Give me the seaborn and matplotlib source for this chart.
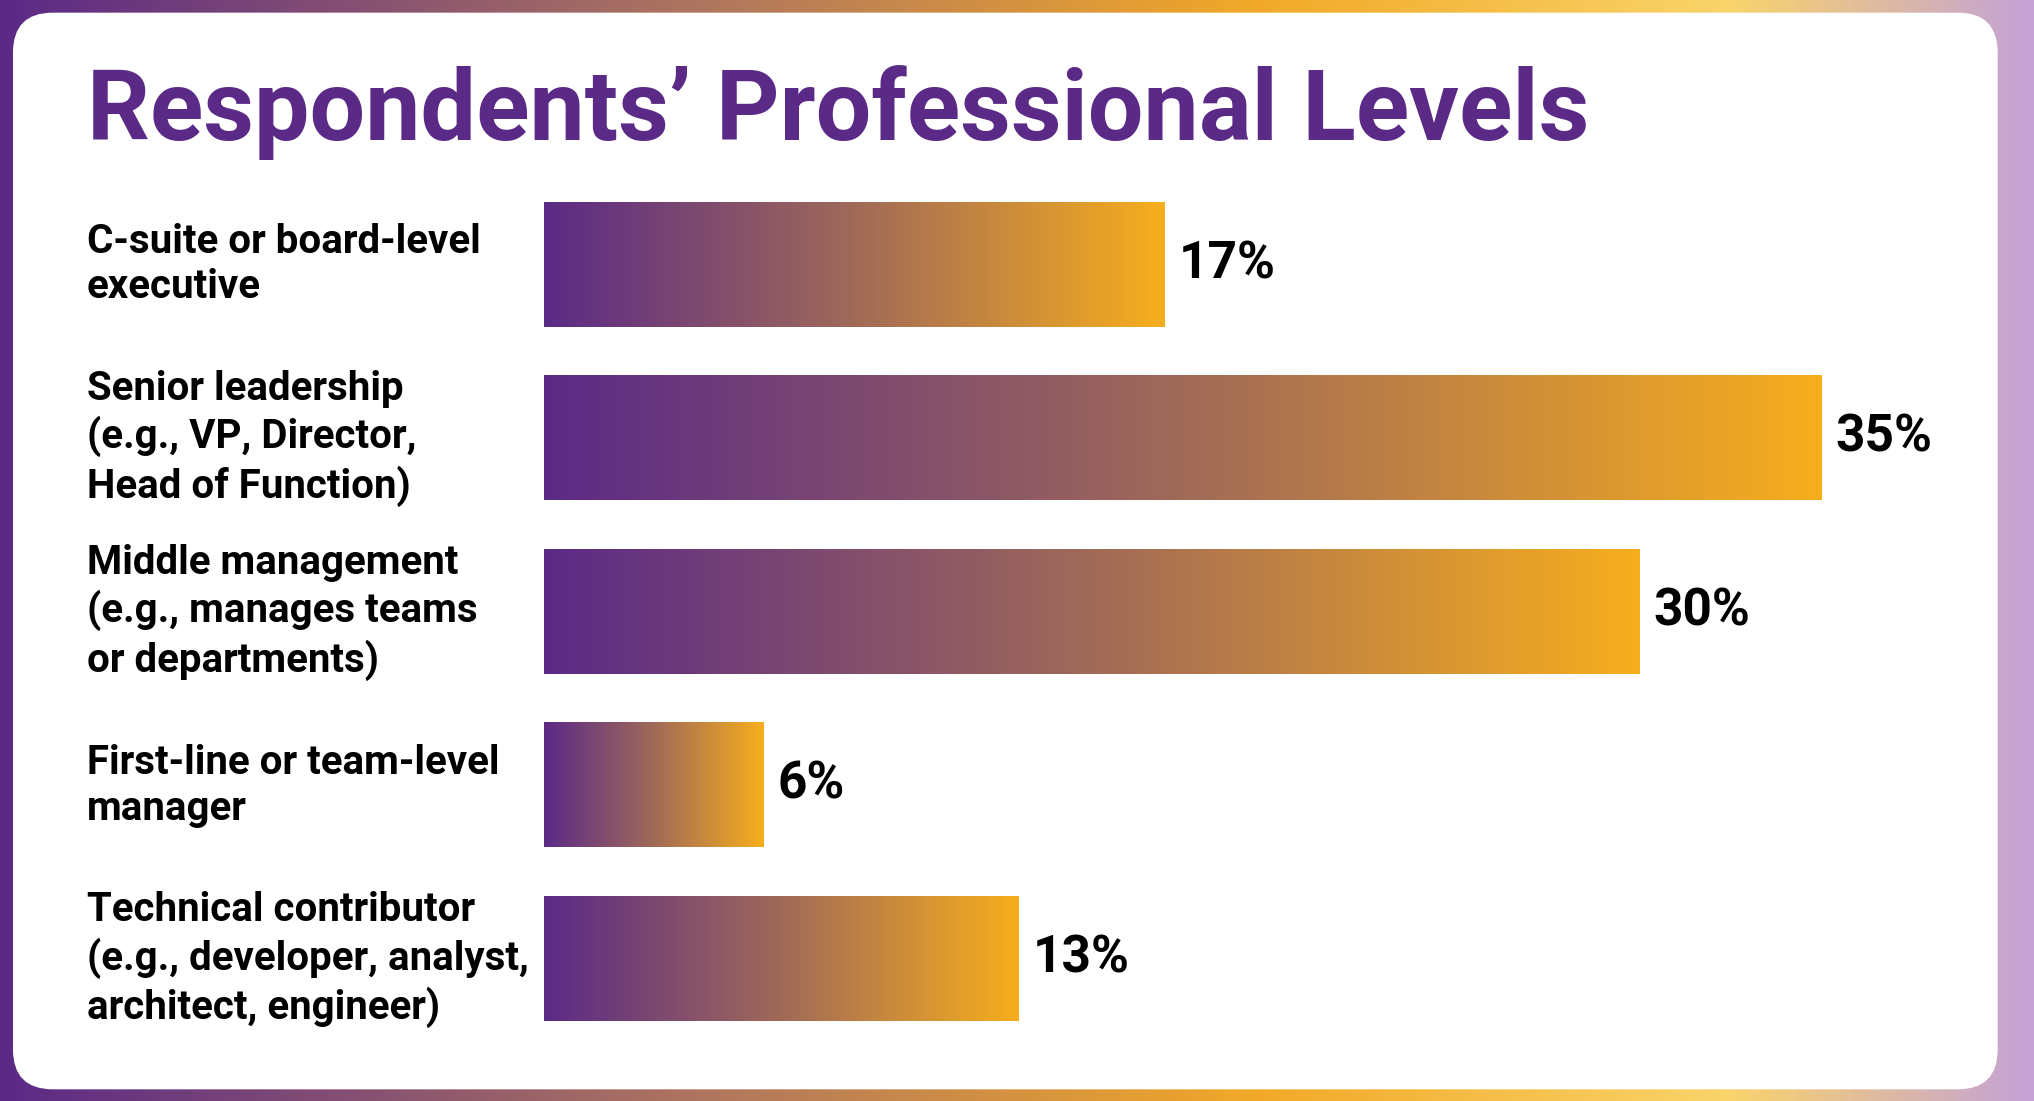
import numpy as np
import pandas as pd
import matplotlib
matplotlib.use("Agg")
import matplotlib.pyplot as plt
import seaborn as sns
from matplotlib.colors import LinearSegmentedColormap
from matplotlib.patches import FancyBboxPatch

categories = ["C-suite or board-level\nexecutive",
              "Senior leadership\n(e.g., VP, Director,\nHead of Function)",
              "Middle management\n(e.g., manages teams\nor departments)",
              "First-line or team-level\nmanager",
              "Technical contributor\n(e.g., developer, analyst,\narchitect, engineer)"]
values = [17, 35, 30, 6, 13]
value_labels = ["17%", "35%", "30%", "6%", "13%"]
title = "Respondents’ Professional Levels"

sns.set_theme(style="white")
plt.rcParams['font.family'] = ['Roboto', 'DejaVu Sans']

W, H = 2034, 1101
S = W / 1568
fig = plt.figure(figsize=(W/100, H/100), dpi=100)

# background frame
bg = fig.add_axes([0, 0, 1, 1])
bg.set_xlim(0, W); bg.set_ylim(0, H); bg.axis('off')
frame_cmap = LinearSegmentedColormap.from_list("frame", [
    (0, "#5B2A86"), (0.35, "#B0775E"), (0.62, "#F2A928"), (0.85, "#F9D46A"), (1, "#C4A2D6")])
bg.imshow(np.linspace(0, 1, 512)[None, :], cmap=frame_cmap, extent=[0, W, 0, H], aspect='auto', zorder=0)
bg.add_patch(FancyBboxPatch((10*S, (849-840)*S), (1540-10)*S, (840-10)*S,
                            boxstyle="round,pad=0,rounding_size=40", fc="white", ec="none", zorder=1))
bg.text(67*S, H - 108*S, title, fontsize=71, fontweight='bold', color="#5B2A86", va='baseline', ha='left', zorder=2)

ax = fig.add_axes([419/1568, 1 - 806/849, (1404-419)/1568, (806-137)/849])
ax.patch.set_alpha(0)
df = pd.DataFrame({"cat": categories, "val": values})
sns.barplot(data=df, x="val", y="cat", orient="h", ax=ax, width=0.72, color="#5B2A86")
ax.set_xlim(0, 35); ax.set_ylim(4.5, -0.5)
ax.axis('off')

bar_cmap = LinearSegmentedColormap.from_list("bar", ["#5B2A86", "#A06A58", "#F7AE1D"])
grad = np.linspace(0, 1, 256)[None, :]
for i, p in enumerate(ax.patches):
    x0, y0, w, h = p.get_x(), p.get_y(), p.get_width(), p.get_height()
    im = ax.imshow(grad, cmap=bar_cmap, extent=[x0, x0+w, y0+h, y0], aspect='auto', zorder=2)
    im.set_clip_path(p)
    p.set_facecolor('none')
    ax.text(x0 + w + 0.4, y0 + h/2, value_labels[i], fontsize=37, fontweight='bold',
            color='black', va='center', ha='left')

for i, c in enumerate(categories):
    yc = 1 - (204 + 134*i)/849
    fig.text(67/1568, yc, c, fontsize=29, fontweight='semibold', color='black',
             va='center', ha='left', linespacing=1.25)

ax.set_ylim(4.5, -0.5); ax.set_xlim(0, 35)
fig.savefig("out.png", dpi=100)
